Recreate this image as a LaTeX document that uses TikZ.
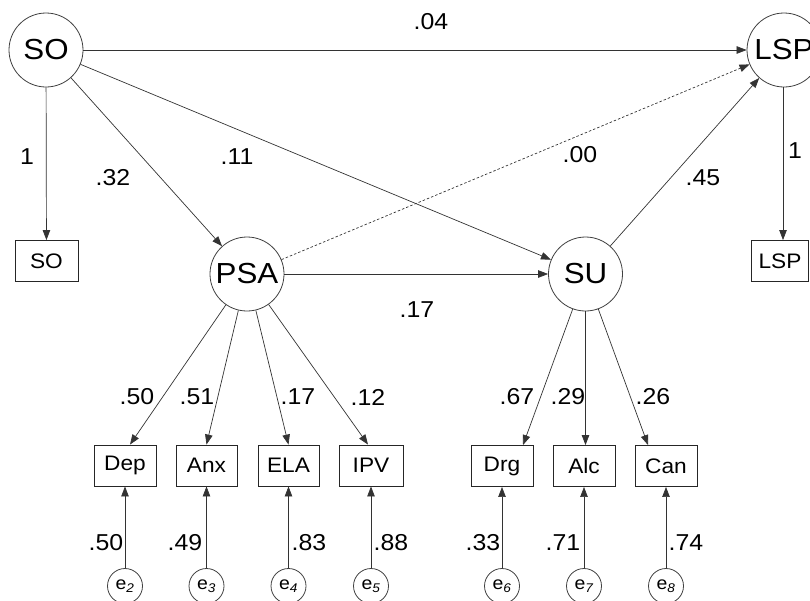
\documentclass[tikz,border=0pt]{standalone}
\usepackage{fontspec}
\setmainfont{Liberation Sans}[FakeStretch=1.08]
\usetikzlibrary{arrows.meta}
\newcommand\semBig{\fontsize{29}{31}\selectfont}
\newcommand\semLab{\fontsize{23}{25}\selectfont}
\newcommand\semBox{\fontsize{21}{23}\selectfont}
\newcommand\semErr{\fontsize{18}{20}\selectfont}
\begin{document}
\begin{tikzpicture}[x=1pt,y=-1pt,
  lat/.style={circle, draw=black!75, line width=0.8pt, minimum size=74pt, inner sep=0pt, font=\semBig},
  obs/.style={rectangle, draw=black!85, line width=0.9pt, minimum height=41pt, inner sep=0pt, font=\semBox},
  err/.style={circle, draw=black!75, line width=0.8pt, minimum size=35pt, inner sep=0pt, font=\semErr},
  lab/.style={inner sep=0pt, font=\semLab},
  pth/.style={draw=black!80, line width=0.7pt, -{Triangle[length=10pt,width=7.5pt]}},
  dpth/.style={pth, dash pattern=on 2.5pt off 2pt}]
\useasboundingbox (0,0) rectangle (810,600);
% latent variables
\node[lat] (SO) at (46,50) {SO};
\node[lat] (LSP) at (784,50) {LSP};
\node[lat] (PSA) at (247,274) {PSA};
\node[lat] (SU) at (585.5,274) {SU};
% observed
\node[obs, minimum width=63pt] (SObox) at (46.5,261) {SO};
\node[obs, minimum width=57pt] (LSPbox) at (780,261) {LSP};
\node[obs, minimum width=62pt] (Dep) at (125,465.5) {Dep};
\node[obs, minimum width=61pt] (Anx) at (206.5,465.5) {Anx};
\node[obs, minimum width=61pt] (ELA) at (288.5,465.5) {ELA};
\node[obs, minimum width=64pt] (IPV) at (371,465.5) {IPV};
\node[obs, minimum width=62pt] (Drg) at (502,466) {Drg};
\node[obs, minimum width=62pt] (Alc) at (584,466) {Alc};
\node[obs, minimum width=62pt] (Can) at (666,466) {Can};
% errors
\node[err] (e2) at (125,586) {e\textsubscript{\itshape 2}};
\node[err] (e3) at (206.5,586) {e\textsubscript{\itshape 3}};
\node[err] (e4) at (288.5,586) {e\textsubscript{\itshape 4}};
\node[err] (e5) at (371,586) {e\textsubscript{\itshape 5}};
\node[err] (e6) at (502,586) {e\textsubscript{\itshape 6}};
\node[err] (e7) at (584,586) {e\textsubscript{\itshape 7}};
\node[err] (e8) at (666,586) {e\textsubscript{\itshape 8}};
% structural paths
\draw[pth] (SO) -- (LSP);
\draw[pth] (SO) -- (SObox);
\draw[pth] (SO) -- (PSA);
\draw[pth] (SO) -- (SU);
\draw[dpth] (PSA) -- (LSP);
\draw[pth] (PSA) -- (SU);
\draw[pth] (SU) -- (LSP);
\draw[pth] (LSP.south -| 783,0) -- (LSPbox.north -| 783,0);
% loadings
\draw[pth] (PSA) -- ([xshift=5pt]Dep.north);
\draw[pth] (PSA) -- (Anx.north);
\draw[pth] (PSA) -- (ELA.north);
\draw[pth] (PSA) -- ([xshift=-3pt]IPV.north);
\draw[pth] (SU) -- ([xshift=21pt]Drg.north);
\draw[pth] (SU.south) -- (SU.south |- Alc.north);
\draw[pth] (SU) -- ([xshift=-18pt]Can.north);
% errors
\foreach \e/\b in {e2/Dep,e3/Anx,e4/ELA,e5/IPV,e6/Drg,e7/Alc,e8/Can}
  \draw[pth] (\e) -- (\b);
% labels
\node[lab] (l1) at (431,22) {.04};
\node[lab] (l2) at (27,157) {1};
\node[lab] (l3) at (113,178) {.32};
\node[lab] (l4) at (237,157) {.11};
\node[lab] (l5) at (580,155) {.00};
\node[lab] (l6) at (703,178) {.45};
\node[lab] (l7) at (795,151) {1};
\node[lab] (l8) at (417,310) {.17};
\node[lab] (l9) at (137,397) {.50};
\node[lab] (l10) at (197,397) {.51};
\node[lab] (l11) at (298,397) {.17};
\node[lab] (l12) at (368,397) {.12};
\node[lab] (l13) at (517,397) {.67};
\node[lab] (l14) at (568,397) {.29};
\node[lab] (l15) at (653,397) {.26};
\node[lab] (l16) at (106,543) {.50};
\node[lab] (l17) at (185,543) {.49};
\node[lab] (l18) at (309,543) {.83};
\node[lab] (l19) at (391,543) {.88};
\node[lab] (l20) at (483,543) {.33};
\node[lab] (l21) at (563,543) {.71};
\node[lab] (l22) at (686,543) {.74};
\end{tikzpicture}
\end{document}
